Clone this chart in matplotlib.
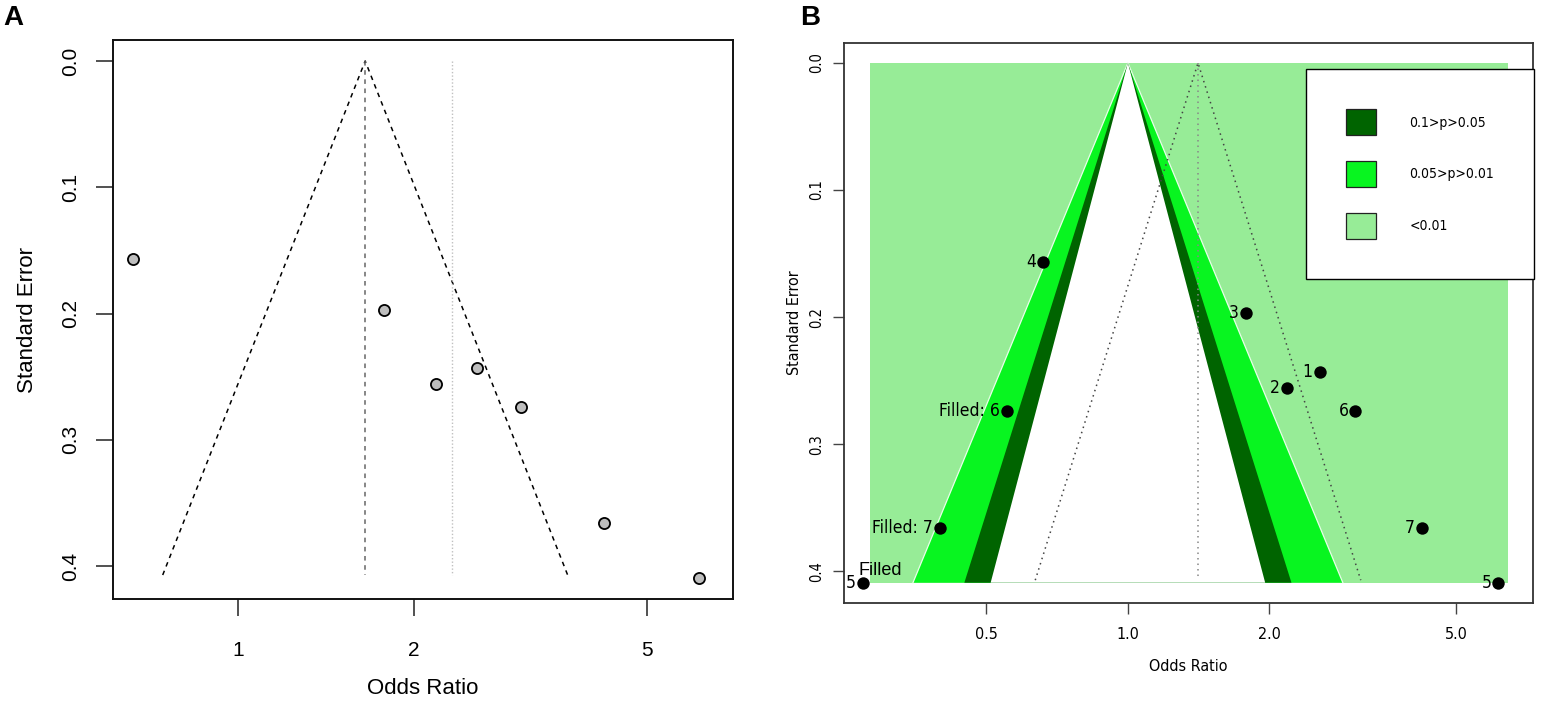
import numpy as np
import matplotlib
matplotlib.use("Agg")
import matplotlib.pyplot as plt
from matplotlib import font_manager
from matplotlib.font_manager import FontProperties
from matplotlib.patches import Patch
from matplotlib.ticker import FixedLocator, FixedFormatter, NullLocator

# study estimates (odds ratio, standard error)
study_ids = ["1", "2", "3", "4", "5", "6", "7"]
study_or = [2.56, 2.18, 1.78, 0.66, 6.15, 3.05, 4.23]
study_se = [0.243, 0.256, 0.197, 0.157, 0.409, 0.274, 0.366]

# trim-and-fill imputed studies (panel B)
filled_ids = ["6", "7", "5"]
filled_or = [0.553, 0.398, 0.273]
filled_se = [0.274, 0.366, 0.409]

# summary lines
pooled_or_a = 1.65      # dashed centre line, panel A
alt_or_a = 2.32         # dotted grey line, panel A
pooled_or_b = 1.41      # dotted centre line, panel B
funnel_se = 0.407

# contour-enhanced regions (panel B)
null_or = 1.0
contour_z = [2.576, 1.96, 1.645]
contour_colors = ["#08f520", "#006400", "white"]
shade_or = (0.282, 6.44)
shade_se = 0.409
legend_labels = ["0.1>p>0.05", "0.05>p>0.01", "<0.01"]
legend_colors = ["#006400", "#08f520", "#97ec97"]
light_green = "#97ec97"

plt.rcParams["font.family"] = ["Liberation Sans", "DejaVu Sans"]


def narrow_font(size):
    # look for a condensed sans face; fall back to plain Liberation Sans
    files = []
    for f in font_manager.fontManager.ttflist:
        fn = f.fname.lower()
        if ("narrow" in fn or "condensed" in fn or "narrow" in f.name.lower()) \
                and not any(k in fn for k in ("bold", "italic", "oblique", "light")):
            files.append(f.fname)
    files.sort(key=lambda p: (0 if "liberation" in p.lower() else 1, p))
    if files:
        return FontProperties(fname=files[0], size=size)
    return FontProperties(family="Liberation Sans", size=size)


fig = plt.figure(figsize=(15.42, 7.03), dpi=100)

# ---------------- panel A ----------------
axA = fig.add_axes([0.0733, 0.1479, 0.4021, 0.7952])
axA.set_xscale("log")

lo = pooled_or_a * np.exp(-1.96 * funnel_se)
hi = pooled_or_a * np.exp(1.96 * funnel_se)
axA.plot([lo, pooled_or_a, hi], [funnel_se, 0, funnel_se],
         color="black", lw=1.1, ls=(0, (3, 3)))
axA.plot([pooled_or_a, pooled_or_a], [0, funnel_se],
         color="#666666", lw=1.1, ls=(0, (3, 3)))
axA.plot([alt_or_a, alt_or_a], [0, funnel_se],
         color="#c0c0c0", lw=1.0, ls=(0, (1, 1.5)))
axA.scatter(study_or, study_se, s=64, c="#bebebe", edgecolors="black",
            linewidths=1.3, zorder=3)

axA.set_xlim(0.611, 7.03)
axA.set_ylim(0.426, -0.0166)
axA.xaxis.set_major_locator(FixedLocator([1, 2, 5]))
axA.xaxis.set_major_formatter(FixedFormatter(["1", "2", "5"]))
axA.xaxis.set_minor_locator(NullLocator())
axA.set_yticks([0.0, 0.1, 0.2, 0.3, 0.4])
axA.set_yticklabels(["0.0", "0.1", "0.2", "0.3", "0.4"], rotation=90, va="center")
axA.tick_params(axis="both", direction="out", length=12, width=1.1,
                colors="#222222", labelcolor="black", labelsize=15)
axA.tick_params(axis="x", pad=18)
axA.tick_params(axis="y", pad=12)
for sp in axA.spines.values():
    sp.set_linewidth(1.4)
    sp.set_color("#111111")

axA.set_xlabel("Odds Ratio", fontsize=16, va="center")
axA.xaxis.set_label_coords(0.5, (599 - 688) / 559)
axA.set_ylabel("Standard Error", fontsize=16, va="center")
axA.yaxis.set_label_coords((27 - 113) / 620, 0.5)

# ---------------- panel B ----------------
axB = fig.add_axes([0.5473, 0.1422, 0.4468, 0.7966])
axB.set_xscale("log")

axB.fill([shade_or[0], shade_or[1], shade_or[1], shade_or[0]],
         [0, 0, shade_se, shade_se], color=light_green, lw=0, zorder=1)
for i, (z, col) in enumerate(zip(contour_z, contour_colors)):
    l = null_or * np.exp(-z * shade_se)
    r = null_or * np.exp(z * shade_se)
    axB.fill([l, null_or, r], [shade_se, 0, shade_se], facecolor=col,
             lw=0, zorder=2 + i)
    if i == 0:
        # thin light seam along the outer edges of the 5% band
        axB.plot([l, null_or, r], [shade_se, 0, shade_se], color="#e8ffe8",
                 lw=0.9, zorder=2.5)

lo = pooled_or_b * np.exp(-1.96 * funnel_se)
hi = pooled_or_b * np.exp(1.96 * funnel_se)
axB.plot([lo, pooled_or_b, hi], [funnel_se, 0, funnel_se],
         color="#444444", lw=1.1, ls=(0, (1, 2.6)), zorder=6)
axB.plot([pooled_or_b, pooled_or_b], [0, funnel_se],
         color="#888888", lw=1.1, ls=(0, (1, 2.6)), zorder=6)

axB.scatter(study_or, study_se, s=80, c="black", lw=0, zorder=7)
axB.scatter(filled_or, filled_se, s=80, c="black", lw=0, zorder=7)
lab_font = narrow_font(12.5)
for sid, o, s in zip(study_ids, study_or, study_se):
    axB.annotate(sid, (o, s), xytext=(-5, 0), textcoords="offset points",
                 ha="right", va="center", fontproperties=lab_font, zorder=8)
for sid, o, s in zip(filled_ids, filled_or, filled_se):
    lab = sid if sid == "5" else "Filled: " + sid
    axB.annotate(lab, (o, s), xytext=(-5, 0), textcoords="offset points",
                 ha="right", va="center", fontproperties=lab_font, zorder=8)
# label of the outermost filled study drawn above its point
axB.annotate("Filled", (filled_or[2], filled_se[2]), xytext=(-3, 3),
             textcoords="offset points", ha="left", va="bottom",
             fontsize=13, zorder=8)

axB.set_xlim(0.2486, 7.28)
axB.set_ylim(0.425, -0.0157)
axB.xaxis.set_major_locator(FixedLocator([0.5, 1, 2, 5]))
axB.xaxis.set_major_formatter(FixedFormatter(["0.5", "1.0", "2.0", "5.0"]))
axB.xaxis.set_minor_locator(NullLocator())
axB.set_yticks([0.0, 0.1, 0.2, 0.3, 0.4])
axB.set_yticklabels(["0.0", "0.1", "0.2", "0.3", "0.4"], rotation=90, va="center",
                    fontproperties=narrow_font(10.5))
for t in axB.get_xticklabels():
    t.set_fontproperties(narrow_font(11.5))
axB.tick_params(axis="both", direction="out", length=8, width=1.0,
                colors="#444444", labelcolor="black")
axB.tick_params(axis="x", pad=9)
axB.tick_params(axis="y", pad=6)
for sp in axB.spines.values():
    sp.set_linewidth(1.3)
    sp.set_color("#333333")

axB.set_xlabel("Odds Ratio", fontproperties=narrow_font(11.5), va="center")
axB.xaxis.set_label_coords(0.5, (603 - 666) / 560)
axB.set_ylabel("Standard Error", fontproperties=narrow_font(11.5), va="center")
axB.yaxis.set_label_coords((795 - 844) / 689, 0.5)

handles = [Patch(facecolor=c, edgecolor="#222222", lw=0.9) for c in legend_colors]
leg = axB.legend(handles, legend_labels, loc="upper left",
                 bbox_to_anchor=(0.6705, 0.9536, 0.3305, 0.0), mode="expand",
                 prop=narrow_font(10), fancybox=False, borderaxespad=0,
                 framealpha=1, edgecolor="black", borderpad=2.9,
                 handlelength=2.16, handleheight=2.5, labelspacing=1.87,
                 handletextpad=2.4)
leg.get_frame().set_linewidth(1.0)
leg.set_zorder(10)

fig.text(0.002, 1 - 18 / 703, "A", fontsize=20, weight="bold", va="center")
fig.text(800 / 1542, 1 - 18 / 703, "B", fontsize=20, weight="bold", va="center")

fig.savefig("out.png", dpi=100)
